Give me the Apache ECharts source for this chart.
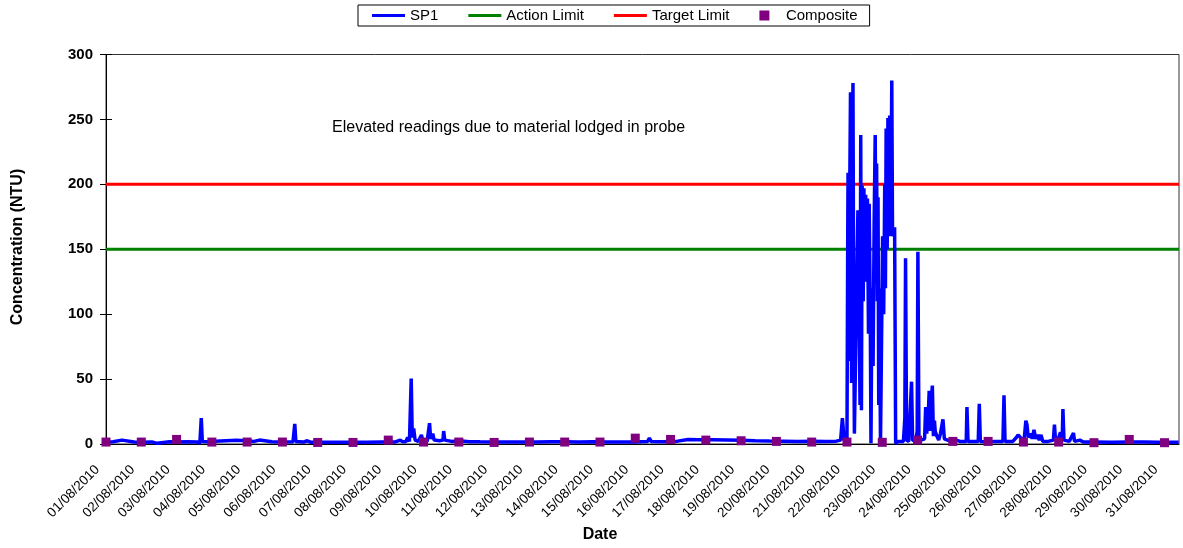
<!DOCTYPE html>
<html>
<head>
<meta charset="utf-8">
<script src="https://cdn.jsdelivr.net/npm/echarts@6/dist/echarts.min.js"></script>
<style>
html,body{margin:0;padding:0;background:#fff;}
#chart{width:1183px;height:548px;}
</style>
</head>
<body>
<div id="chart"></div>
<script>
// Day labels (x = day offset from 01/08/2010 00:00)
const dayLabels = ['01/08/2010','02/08/2010','03/08/2010','04/08/2010','05/08/2010','06/08/2010','07/08/2010','08/08/2010','09/08/2010','10/08/2010','11/08/2010','12/08/2010','13/08/2010','14/08/2010','15/08/2010','16/08/2010','17/08/2010','18/08/2010','19/08/2010','20/08/2010','21/08/2010','22/08/2010','23/08/2010','24/08/2010','25/08/2010','26/08/2010','27/08/2010','28/08/2010','29/08/2010','30/08/2010','31/08/2010'];

// Composite sample at 00:00 of each day
const compositeValues = [1.5,1.5,3.5,1.5,1.5,1.5,1.2,1.2,3,1.5,1.5,1.2,1.5,1.5,1.5,4.5,3.5,3,2.5,2,1.5,1.5,1.3,3,2,2,1.5,1.5,1,3.5,1];

// SP1 continuous readings [day offset, NTU]
const sp1Points = [
[0,1.5],[0.2,1.8],[0.45,3],[0.5,1.6],[0.8,1.5],[1.0,1.4],[1.3,1.6],[1.45,0.5],[1.5,1.5],[1.8,1.7],[2.0,1.6],[2.3,1.8],[2.6,1.5],[2.66,0.5],[2.68,2],[2.70,20],[2.73,2],[2.9,1.8],[3.1,2.2],[3.4,2.5],[3.7,2.8],[3.95,2.6],[4.2,2.0],[4.35,3.0],[4.4,2.0],[4.7,1.8],[5.0,1.6],[5.3,1.7],[5.33,2],[5.35,15.5],[5.38,2],[5.6,1.5],[5.7,2.5],[5.8,1.4],[6.2,1.3],[6.6,1.4],[7.0,1.3],[7.4,1.4],[7.8,1.5],[8.2,1.6],[8.34,3],[8.4,1.8],[8.5,2],[8.55,5],[8.6,2],[8.63,3],[8.65,50.5],[8.68,5],[8.72,12],[8.76,3],[8.85,2],[8.94,7],[8.98,2],[9.1,2],[9.15,3],[9.17,16],[9.2,4],[9.26,8],[9.3,3],[9.45,2.5],[9.55,3],[9.57,10],[9.6,3],[9.8,2],[10.0,2.5],[10.3,1.8],[10.6,1.7],[11.0,1.6],[11.4,1.5],[11.8,1.6],[12.2,1.5],[12.6,1.7],[13.0,1.8],[13.4,1.6],[13.8,1.7],[14.2,1.6],[14.6,1.5],[15.0,1.6],[15.35,2],[15.4,4.5],[15.45,2],[15.8,1.8],[16.2,2.2],[16.5,3.5],[16.8,3.3],[17.2,3.2],[17.6,3.0],[18.0,2.8],[18.4,2.5],[18.8,2.3],[19.2,2.2],[19.6,2.0],[20.0,2.1],[20.4,1.9],[20.7,2.2],[20.82,3],[20.87,20],[20.92,3],[20.98,2],
[21.00,5],[21.02,150],[21.03,209],[21.05,100],[21.06,64],[21.08,200],[21.10,271],[21.12,150],[21.13,47],[21.15,200],[21.17,278],[21.19,100],[21.21,8],[21.24,60],[21.28,130],[21.31,180],[21.35,90],[21.37,30],[21.39,238],[21.41,26],[21.43,199],[21.46,110],[21.48,197],[21.51,125],[21.53,192],[21.56,140],[21.58,189],[21.61,85],[21.63,185],[21.66,100],[21.68,0.5],[21.71,120],[21.74,60],[21.77,170],[21.80,238],[21.82,150],[21.84,216],[21.86,110],[21.88,190],[21.90,30],[21.92,120],[21.95,0.5],[21.98,80],[22.01,160],[22.04,100],[22.07,200],[22.09,120],[22.11,243],[22.14,150],[22.16,251],[22.19,180],[22.21,253],[22.24,160],[22.27,280],[22.29,167],[22.32,160],[22.35,167],[22.38,0.5],[22.45,2],[22.6,2],[22.64,20],[22.66,143],[22.69,3],[22.75,2],[22.8,3],[22.83,48],[22.86,3],[22.95,2],[22.99,10],[23.01,148],[23.04,5],[23.1,3],[23.2,4],[23.23,28.5],[23.26,8],[23.3,20],[23.33,41],[23.36,10],[23.38,30],[23.42,45],[23.45,6],[23.48,18],[23.5,10],[23.55,6],[23.6,3],[23.65,8],[23.72,19],[23.76,4],[23.85,3],[23.95,2],[24.0,2.5],[24.1,3],[24.2,2],[24.38,2],[24.40,28.5],[24.43,2],[24.6,2],[24.72,2],[24.75,31],[24.78,2],[25.0,1.8],[25.2,2],[25.42,2],[25.45,37.5],[25.48,2],[25.7,2],[25.8,5],[25.85,7],[25.9,8.5],[25.95,4],[26.02,3],[26.07,18],[26.1,15],[26.14,5],[26.2,8],[26.25,4],[26.3,11],[26.35,4],[26.4,7],[26.45,3],[26.5,7],[26.55,2],[26.7,2],[26.85,3],[26.88,15],[26.91,3],[27.0,5],[27.05,9],[27.1,3],[27.12,27],[27.15,3],[27.3,2],[27.42,8.5],[27.45,2],[27.6,3],[27.7,1.5],[28.0,1.5],[28.5,1.4],[29.0,1.5],[29.38,1.5],[29.4,3],[29.45,1.5],[29.8,1.4],[30.0,1.3],[30.4,1.4]
];

const actionLimit = 150;
const targetLimit = 200;
const xMin = 0;
const xMax = 30.41;
const yTicks = [0, 50, 100, 150, 200, 250, 300];

const FONT = '"Liberation Sans", Arial, sans-serif';
const LINE_ICON = 'path://M0,0L33,0L33,3L0,3Z';
const chart = echarts.init(document.getElementById('chart'), null, {renderer: 'canvas'});

const yBase = {
  type: 'value', min: yTicks[0], max: yTicks[yTicks.length - 1], interval: 50,
  splitLine: {show: false}
};

chart.setOption({
  animation: false,
  backgroundColor: '#fff',
  grid: {left: 106, right: 4, top: 54.5, bottom: 104, show: true, borderColor: '#333', borderWidth: 1, backgroundColor: '#fff'},
  legend: {
    left: 358, top: 5,
    padding: [3, 12, 3, 14],
    borderColor: '#000', borderWidth: 1, borderRadius: 0,
    backgroundColor: '#fff',
    itemWidth: 33, itemHeight: 10, itemGap: 30, itemTextGap: 1,
    textStyle: {fontFamily: FONT, fontSize: 15, color: '#000'},
    data: [
      {name: 'SP1', icon: LINE_ICON},
      {name: 'Action Limit', icon: LINE_ICON},
      {name: 'Target Limit', icon: LINE_ICON},
      {name: 'Composite', icon: 'path://M0,0L10,0L10,10L0,10Z'}
    ]
  },
  xAxis: {
    type: 'value', min: xMin, max: xMax, interval: 1,
    splitLine: {show: false},
    axisLine: {onZero: false, lineStyle: {color: '#000', width: 1}},
    axisTick: {show: false},
    axisLabel: {
      rotate: 45, margin: 15, padding: [0, 12, 0, 0], showMaxLabel: false,
      fontFamily: FONT, fontSize: 13.5, color: '#000',
      formatter: v => (Number.isInteger(v) && dayLabels[v]) ? dayLabels[v] : ''
    }
  },
  yAxis: [
    Object.assign({}, yBase, {
      axisLine: {show: true, lineStyle: {color: '#000', width: 1}},
      axisTick: {show: true, inside: false, length: 6, lineStyle: {color: '#000'}},
      axisLabel: {margin: 13, fontFamily: FONT, fontSize: 15, fontWeight: 'bold', color: '#000'}
    }),
    Object.assign({}, yBase, {
      position: 'left', offset: 0,
      axisLine: {show: false},
      axisTick: {show: true, inside: true, length: 6, lineStyle: {color: '#000'}},
      axisLabel: {show: false}
    })
  ],
  graphic: [
    {type: 'text', x: 332, y: 128, style: {text: 'Elevated readings due to material lodged in probe', fontFamily: FONT, fontSize: 16, fill: '#000', textVerticalAlign: 'middle'}},
    {type: 'text', x: 600, y: 535, style: {text: 'Date', fontFamily: FONT, fontSize: 16, fontWeight: 'bold', fill: '#000', textAlign: 'center', textVerticalAlign: 'middle'}},
    {type: 'text', x: 18, y: 247, rotation: Math.PI / 2, style: {text: 'Concentration (NTU)', fontFamily: FONT, fontSize: 16, fontWeight: 'bold', fill: '#000', textAlign: 'center', textVerticalAlign: 'middle'}}
  ],
  series: [
    {
      name: 'SP1', type: 'line', data: sp1Points, symbol: 'none', z: 3,
      lineStyle: {color: '#0000ff', width: 3.5}, itemStyle: {color: '#0000ff'}
    },
    {
      name: 'Action Limit', type: 'line', data: [[xMin, actionLimit], [xMax, actionLimit]], symbol: 'none', z: 2,
      lineStyle: {color: '#008000', width: 3}, itemStyle: {color: '#008000'}
    },
    {
      name: 'Target Limit', type: 'line', data: [[xMin, targetLimit], [xMax, targetLimit]], symbol: 'none', z: 2,
      lineStyle: {color: '#ff0000', width: 3}, itemStyle: {color: '#ff0000'}
    },
    {
      name: 'Composite', type: 'scatter', z: 4,
      data: compositeValues.map((v, i) => [i, v]),
      symbol: 'rect', symbolSize: 9,
      itemStyle: {color: '#800080', opacity: 1}
    }
  ]
});
</script>
</body>
</html>
